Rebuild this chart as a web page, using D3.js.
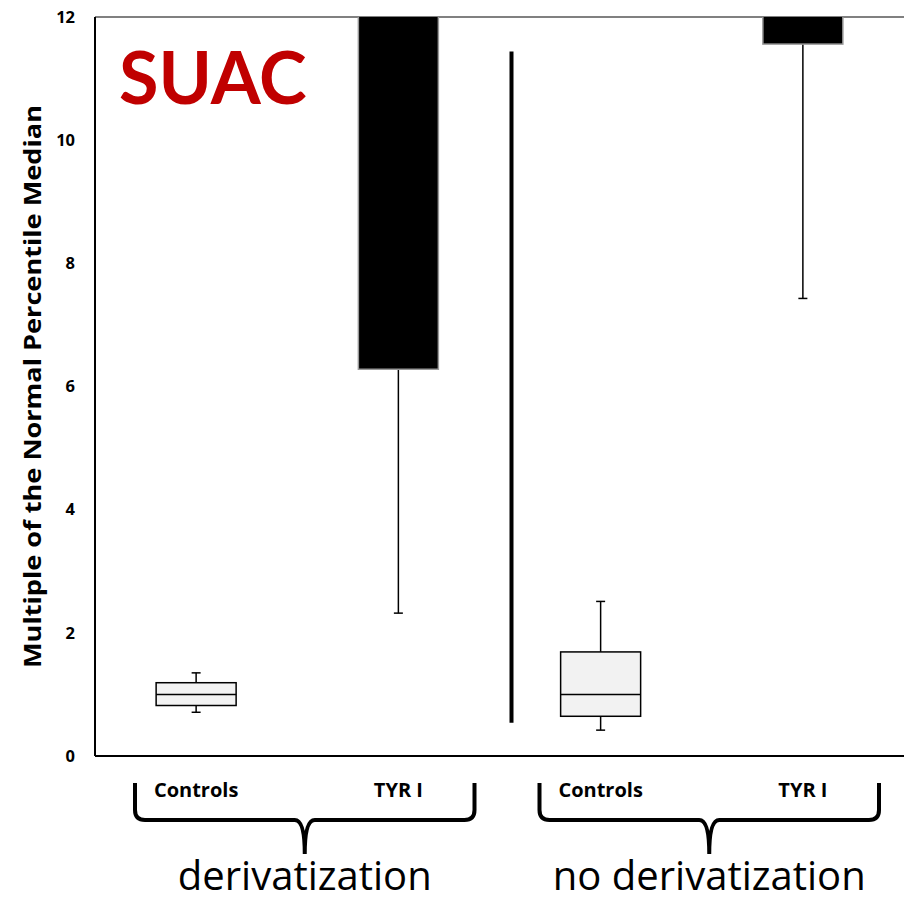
<!DOCTYPE html>
<html>
<head>
<meta charset="utf-8">
<script src="https://cdn.jsdelivr.net/npm/d3@7"></script>
<style>
body { margin: 0; background: #fff; }
svg { display: block; font-family: "Open Sans", Lato, sans-serif; }
</style>
</head>
<body>
<svg id="chart" width="904" height="902"></svg>
<script>
var groups = ['c1', 't1', 'c2', 't2'];
var groupLabels = ['Controls', 'TYR I', 'Controls', 'TYR I'];
var whiskerLow = [0.71, 2.32, 0.42, 7.43];
var boxLow = [0.82, 6.28, 0.645, 11.56];
var medians = [1.0, 14, 1.0, 14];
var boxHigh = [1.19, 14, 1.69, 14];
var whiskerHigh = [1.35, 14, 2.51, 14];
var isPatient = [false, true, false, true];
var yTicks = [0, 2, 4, 6, 8, 10, 12];
var sectionNames = ['derivatization', 'no derivatization'];
var separator = [0.54, 11.44];

var svg = d3.select('#chart');
var margin = { top: 17, right: 0, bottom: 146, left: 95 },
    width = 904 - margin.left - margin.right,
    height = 902 - margin.top - margin.bottom;

var x = d3.scaleBand().domain(groups).range([0, width]);
var y = d3.scaleLinear().domain([0, 12]).range([height, 0]);
var boxW = 80;

var g = svg.append('g').attr('transform', `translate(${margin.left},${margin.top})`);

g.append('clipPath').attr('id', 'plot-clip')
    .append('rect').attr('x', 0).attr('y', 0).attr('width', width).attr('height', height);

// y axis ticks (labels only, no tick marks in the original)
g.append('g').selectAll('text')
    .data(yTicks).enter().append('text')
    .attr('x', -20)
    .attr('y', d => y(d))
    .attr('dy', '0.35em')
    .attr('text-anchor', 'end')
    .style('font-size', '16.5px')
    .style('font-weight', 'bold')
    .text(d => d);

g.append('text')
    .attr('transform', `translate(-62,${height / 2}) rotate(-90)`)
    .attr('text-anchor', 'middle')
    .attr('dy', '0.35em')
    .attr('textLength', 563)
    .attr('lengthAdjust', 'spacingAndGlyphs')
    .style('font-size', '24px')
    .style('font-weight', 'bold')
    .text('Multiple of the Normal Percentile Median');

// frame
g.append('line').attr('x1', 0).attr('x2', width).attr('y1', 0).attr('y2', 0)
    .attr('stroke', '#808080').attr('stroke-width', 2);
g.append('line').attr('x1', 0).attr('x2', 0).attr('y1', 0).attr('y2', height)
    .attr('stroke', '#000').attr('stroke-width', 2);
g.append('line').attr('x1', 0).attr('x2', width).attr('y1', height).attr('y2', height)
    .attr('stroke', '#000').attr('stroke-width', 2);

var plot = g.append('g').attr('clip-path', 'url(#plot-clip)');

groups.forEach(function (k, i) {
    var cx = x(k) + x.bandwidth() / 2;
    var b = plot.append('g');
    // whiskers
    b.append('line').attr('x1', cx).attr('x2', cx)
        .attr('y1', y(whiskerLow[i])).attr('y2', y(boxLow[i]))
        .attr('stroke', '#000').attr('stroke-width', 1.5);
    b.append('line').attr('x1', cx).attr('x2', cx)
        .attr('y1', y(boxHigh[i])).attr('y2', y(whiskerHigh[i]))
        .attr('stroke', '#000').attr('stroke-width', 1.5);
    [whiskerLow[i], whiskerHigh[i]].forEach(function (v) {
        b.append('line').attr('x1', cx - 4.5).attr('x2', cx + 4.5)
            .attr('y1', y(v)).attr('y2', y(v))
            .attr('stroke', '#000').attr('stroke-width', 1.5);
    });
    // box
    b.append('rect')
        .attr('x', cx - boxW / 2).attr('width', boxW)
        .attr('y', y(boxHigh[i])).attr('height', y(boxLow[i]) - y(boxHigh[i]))
        .attr('fill', isPatient[i] ? '#000' : '#f2f2f2')
        .attr('stroke', isPatient[i] ? '#9a9a9a' : '#000')
        .attr('stroke-width', 1.5);
    b.append('line').attr('x1', cx - boxW / 2).attr('x2', cx + boxW / 2)
        .attr('y1', y(medians[i])).attr('y2', y(medians[i]))
        .attr('stroke', isPatient[i] ? '#9a9a9a' : '#000').attr('stroke-width', 1.5);
});

// separator between the two sections
g.append('line')
    .attr('x1', 2 * x.bandwidth() + 12).attr('x2', 2 * x.bandwidth() + 12)
    .attr('y1', y(separator[0])).attr('y2', y(separator[1]))
    .attr('stroke', '#000').attr('stroke-width', 4);

// title
g.append('text')
    .attr('x', 24).attr('y', 87)
    .attr('fill', '#c00000')
    .style('font-family', 'Lato, sans-serif')
    .style('font-size', '72px')
    .style('font-weight', 'bold')
    .text('SUAC');

// category labels
g.selectAll('.cat')
    .data(groups).enter().append('text')
    .attr('x', d => x(d) + x.bandwidth() / 2)
    .attr('y', height + 34)
    .attr('dy', '0.35em')
    .attr('text-anchor', 'middle')
    .style('font-size', '20px')
    .style('font-weight', 'bold')
    .text((d, i) => groupLabels[i]);

// braces
function brace(x0, x1) {
    var top = height + 27, mid = height + 64, tip = height + 98;
    var m = (x0 + x1) / 2, r = 10;
    return `M${x0},${top} L${x0},${mid - r} Q${x0},${mid} ${x0 + r},${mid}` +
        ` L${m - r},${mid} Q${m},${mid} ${m},${tip}` +
        ` Q${m},${mid} ${m + r},${mid} L${x1 - r},${mid} Q${x1},${mid} ${x1},${mid - r} L${x1},${top}`;
}
sectionNames.forEach(function (name, s) {
    var left = x(groups[2 * s]) + 40;
    var right = x(groups[2 * s + 1]) + x.bandwidth() - 25;
    g.append('path')
        .attr('d', brace(left, right))
        .attr('fill', 'none')
        .attr('stroke', '#000')
        .attr('stroke-width', 4);
    g.append('text')
        .attr('x', (left + right) / 2)
        .attr('y', height + 134)
        .attr('text-anchor', 'middle')
        .style('font-size', '40px')
        .text(name);
});
</script>
</body>
</html>
